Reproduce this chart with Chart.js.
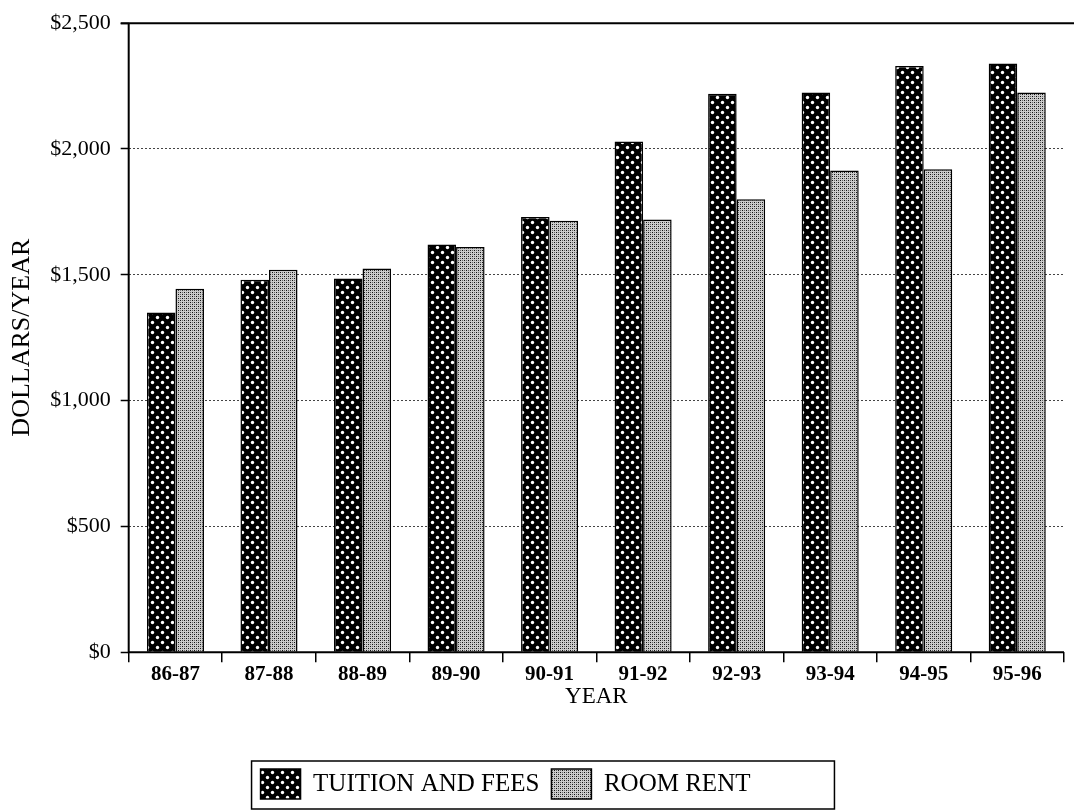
<!DOCTYPE html>
<html>
<head>
<meta charset="utf-8">
<script src="https://cdn.jsdelivr.net/npm/chart.js@4.4.0/dist/chart.umd.min.js"></script>
<style>
  html, body { margin: 0; padding: 0; background: #fff; }
  #wrap { width: 1074px; height: 810px; }
</style>
</head>
<body>
<div id="wrap"><canvas id="chart" width="1074" height="810"></canvas></div>
<script>
// data
const years = ["86-87", "87-88", "88-89", "89-90", "90-91", "91-92", "92-93", "93-94", "94-95", "95-96"];
const tuitionFees = [1350, 1480, 1485, 1620, 1730, 2030, 2220, 2225, 2330, 2340];
const roomRent = [1445, 1520, 1525, 1610, 1715, 1720, 1800, 1915, 1920, 2225];
const yTicks = [0, 500, 1000, 1500, 2000, 2500];

const serif = "'Liberation Serif', 'DejaVu Serif', serif";
const LEGEND_PAD = 12;

// black with white dots
function dotPattern() {
    const c = document.createElement('canvas');
    c.width = 10; c.height = 10;
    const g = c.getContext('2d');
    g.fillStyle = '#000';
    g.fillRect(0, 0, 10, 10);
    g.fillStyle = '#fff';
    [[2.5, 2.5], [7.5, 7.5]].forEach(p => {
        g.beginPath();
        g.arc(p[0], p[1], 1.7, 0, Math.PI * 2);
        g.fill();
    });
    return g.createPattern(c, 'repeat');
}

// fine grey stipple
function stipplePattern() {
    const c = document.createElement('canvas');
    c.width = 4; c.height = 4;
    const g = c.getContext('2d');
    g.fillStyle = '#cccccc';
    g.fillRect(0, 0, 4, 4);
    g.fillStyle = '#111';
    g.fillRect(0, 0, 1, 1);
    g.fillRect(2, 2, 1, 1);
    g.fillStyle = '#666';
    g.fillRect(2, 0, 1, 1);
    g.fillRect(0, 2, 1, 1);
    return g.createPattern(c, 'repeat');
}

// axis lines, top rule, box round the legend
const framePlugin = {
    id: 'frame',
    afterLayout(chart) {
        // legend sits a little left of centre in the original
        const lg = chart.legend;
        lg.left -= 30;
        lg.right -= 30;
    },
    afterDraw(chart) {
        const ctx = chart.ctx;
        const a = chart.chartArea;
        ctx.save();
        ctx.strokeStyle = '#000';
        ctx.lineWidth = 2;
        ctx.beginPath();
        ctx.moveTo(a.left, a.top);
        ctx.lineTo(a.left, a.bottom);
        ctx.lineTo(a.right, a.bottom);
        ctx.moveTo(a.left - 8, a.top);
        ctx.lineTo(chart.width, a.top);
        ctx.stroke();

        const lg = chart.legend;
        const lw = lg.lineWidths[0];
        const startX = (lg.left + LEGEND_PAD + lg.right - lw) / 2;
        const x0 = startX - 9;
        const x1 = startX + lw - LEGEND_PAD + 84;
        const y0 = lg.top + LEGEND_PAD - 8;
        const y1 = lg.top + LEGEND_PAD + 40;
        ctx.lineWidth = 1.5;
        ctx.strokeRect(x0, y0, x1 - x0, y1 - y0);
        ctx.restore();
    }
};

const tuitionFill = dotPattern();
const roomFill = stipplePattern();

new Chart(document.getElementById('chart'), {
    type: 'bar',
    data: {
        labels: years,
        datasets: [{
            label: 'TUITION AND FEES',
            data: tuitionFees,
            backgroundColor: tuitionFill,
            borderColor: '#000',
            borderWidth: 1.5,
            borderSkipped: 'bottom',
            categoryPercentage: 0.61,
            barPercentage: 1.0
        }, {
            label: 'ROOM RENT',
            data: roomRent,
            backgroundColor: roomFill,
            borderColor: '#000',
            borderWidth: 1.5,
            borderSkipped: 'bottom',
            categoryPercentage: 0.61,
            barPercentage: 1.0
        }]
    },
    options: {
        responsive: false,
        animation: false,
        devicePixelRatio: 1,
        layout: { padding: { top: 18, right: 10, left: 7, bottom: 1 } },
        plugins: {
            tooltip: { enabled: false },
            legend: {
                position: 'bottom',
                labels: {
                    boxWidth: 40,
                    boxHeight: 30,
                    padding: LEGEND_PAD,
                    color: '#000',
                    font: { family: serif, size: 25 }
                }
            }
        },
        scales: {
            x: {
                grid: {
                    drawOnChartArea: false,
                    drawTicks: true,
                    tickLength: 10,
                    color: '#000',
                    lineWidth: 1.5
                },
                border: { display: false },
                ticks: {
                    color: '#000',
                    padding: 0,
                    font: { family: serif, size: 21, weight: 'bold' }
                },
                title: {
                    display: true,
                    text: 'YEAR',
                    color: '#000',
                    padding: { top: -4, bottom: 46 },
                    font: { family: serif, size: 23 }
                }
            },
            y: {
                min: 0,
                max: 2500,
                afterBuildTicks(axis) {
                    axis.ticks = yTicks.map(v => ({ value: v }));
                },
                grid: {
                    color: ctx => (ctx.tick && ctx.tick.value === 0) ? 'rgba(0,0,0,0)' : '#444',
                    lineWidth: 1,
                    drawTicks: true,
                    tickLength: 8,
                    tickColor: '#000',
                    tickWidth: 1.5
                },
                border: { display: false, dash: [2, 2] },
                ticks: {
                    color: '#000',
                    padding: 10,
                    font: { family: serif, size: 22 },
                    callback: v => '$' + v.toLocaleString('en-US')
                },
                title: {
                    display: true,
                    text: 'DOLLARS/YEAR',
                    color: '#000',
                    padding: { top: 0, bottom: 2 },
                    font: { family: serif, size: 26 }
                }
            }
        }
    },
    plugins: [framePlugin]
});
</script>
</body>
</html>
